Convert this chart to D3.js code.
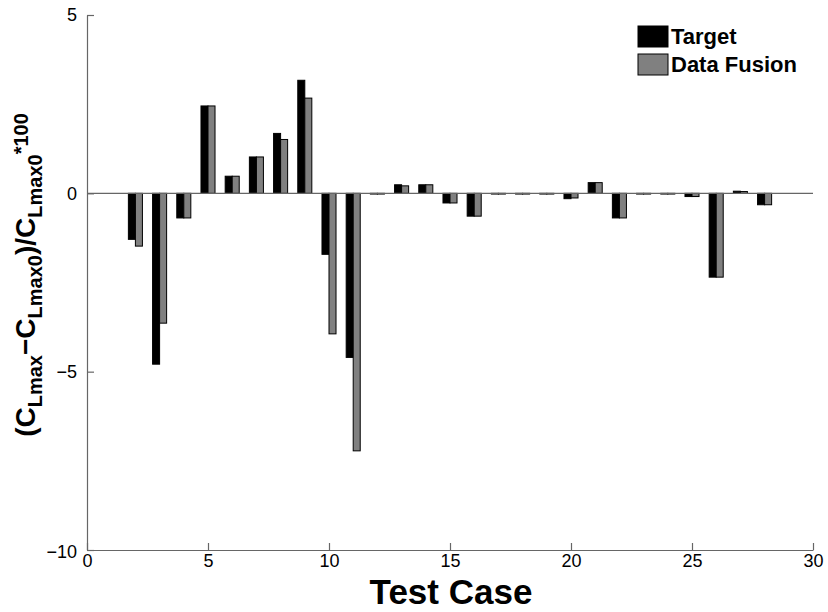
<!DOCTYPE html>
<html>
<head>
<meta charset="utf-8">
<script src="https://cdn.jsdelivr.net/npm/d3@7"></script>
<style>
  body { margin: 0; background: #fff; }
  svg { display: block; font-family: "Liberation Sans", Arial, sans-serif; }
</style>
</head>
<body>
<svg width="828" height="612"></svg>
<script>
// test cases and the two series (percent change of CLmax)
const cases = [2, 3, 4, 5, 6, 7, 8, 9, 10, 11, 12, 13, 14, 15, 16, 17, 18, 19, 20, 21, 22, 23, 24, 25, 26, 27, 28]
const target = [-1.29, -4.79, -0.69, 2.45, 0.48, 1.02, 1.68, 3.17, -1.71, -4.6, -0.02, 0.24, 0.24, -0.27, -0.64, -0.02, -0.02, -0.02, -0.15, 0.3, -0.69, -0.02, -0.02, -0.09, -2.35, 0.06, -0.32]
const fusion = [-1.48, -3.64, -0.69, 2.45, 0.48, 1.02, 1.51, 2.67, -3.94, -7.22, -0.02, 0.21, 0.24, -0.27, -0.64, -0.02, -0.02, -0.02, -0.13, 0.3, -0.69, -0.02, -0.02, -0.09, -2.35, 0.05, -0.32]
const seriesNames = ["Target", "Data Fusion"]
const xTicks = [0, 5, 10, 15, 20, 25, 30]
const yTicks = [-10, -5, 0, 5]

const colors = ["#000000", "#808080"]
const axisColor = "#666"
const tickLen = 7
const barW = 0.29

const x = d3.scaleLinear().domain([0, 30]).range([87, 813])
const y = d3.scaleLinear().domain([-10, 5]).range([550, 15])

const svg = d3.select("svg")

// bars
const series = [target, fusion]
series.forEach((vals, s) => {
    svg.append("g")
        .selectAll("rect")
        .data(cases.map((c, i) => ({c: c, v: vals[i]})))
        .enter().append("rect")
        .attr("x", d => s === 0 ? x(d.c - barW) : x(d.c))
        .attr("width", x(barW) - x(0))
        .attr("y", d => y(Math.max(0, d.v)))
        .attr("height", d => Math.abs(y(d.v) - y(0)))
        .attr("fill", colors[s])
        .attr("stroke", "#000")
        .attr("stroke-width", 1)
})

// zero line
svg.append("line")
    .attr("x1", x(0)).attr("x2", x(30))
    .attr("y1", y(0)).attr("y2", y(0))
    .attr("stroke", axisColor)
    .attr("stroke-width", 1.2)

// axes (left + bottom only, ticks inward)
const xAxis = d3.axisBottom(x).tickValues(xTicks).tickSizeInner(-tickLen).tickSizeOuter(0).tickPadding(4)
const yAxis = d3.axisLeft(y).tickValues(yTicks).tickSizeInner(-tickLen).tickSizeOuter(0).tickPadding(tickLen + 3)
    .tickFormat(d => d < 0 ? "\u2212" + Math.abs(d) : d)

const gx = svg.append("g").attr("transform", `translate(0,${y(-10)})`).call(xAxis)
const gy = svg.append("g").attr("transform", `translate(${x(0)},0)`).call(yAxis)

;[gx, gy].forEach(g => {
    g.select(".domain").attr("stroke", axisColor).attr("stroke-width", 1.2)
    g.selectAll(".tick line").attr("stroke", axisColor).attr("stroke-width", 1.2)
    g.selectAll(".tick text").attr("fill", "#000").attr("font-size", null).style("font-size", "18px")
})
gy.select(".tick text").attr("dy", "0.4em")

// legend
const legend = svg.append("g")
seriesNames.forEach((name, i) => {
    legend.append("rect")
        .attr("x", 638).attr("y", 26 + i * 28)
        .attr("width", 30).attr("height", 21)
        .attr("fill", colors[i])
        .attr("stroke", "#000").attr("stroke-width", 1)
    legend.append("text")
        .attr("x", 671).attr("y", 44 + i * 28)
        .style("font-size", "22px").style("font-weight", "bold")
        .text(name)
})

// x label
svg.append("text")
    .attr("x", 451).attr("y", 604)
    .attr("text-anchor", "middle")
    .style("font-size", "35px").style("font-weight", "bold")
    .text("Test Case")

// y label with subscripts
const main = 28, sub = 20
const yl = svg.append("text")
    .attr("transform", "translate(35,275) rotate(-90)")
    .attr("text-anchor", "middle")
    .style("font-weight", "bold")
    .style("font-size", main + "px")
const parts = [
    ["(C", main, 0], ["Lmax", sub, 7], ["\u2212C", main, -7], ["Lmax0", sub, 7],
    [")/C", main, -7], ["Lmax0", sub, 7], ["*100", sub, -14]
]
parts.forEach(p => {
    yl.append("tspan")
        .style("font-size", p[1] + "px")
        .attr("dy", p[2])
        .text(p[0])
})
</script>
</body>
</html>
